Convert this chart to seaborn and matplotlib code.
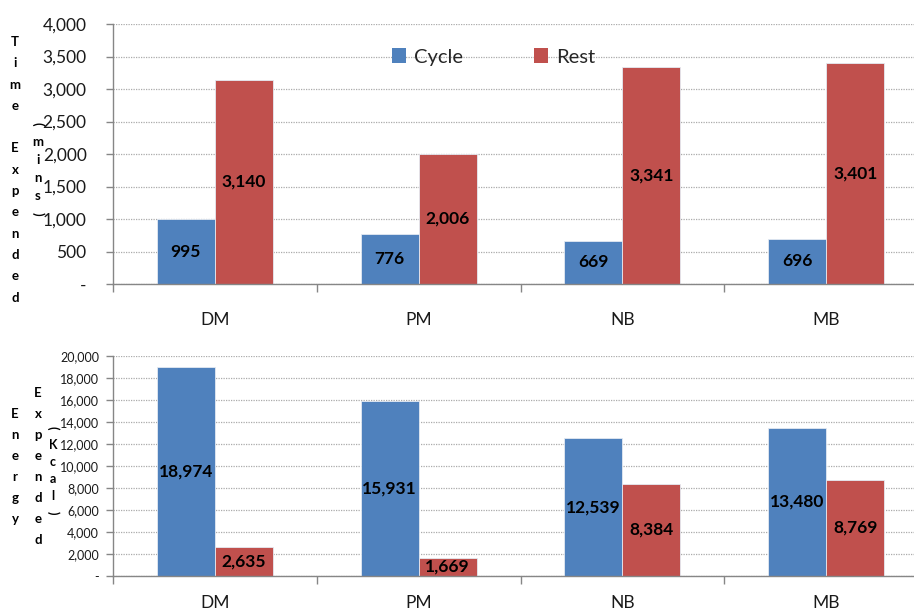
import matplotlib
matplotlib.use("Agg")
import matplotlib.pyplot as plt
import matplotlib.ticker as mticker
from matplotlib.patches import Patch
import seaborn as sns
import pandas as pd

# ---- data ----
categories = ["DM", "PM", "NB", "MB"]
series = ["Cycle", "Rest"]
time_cycle = [995, 776, 669, 696]
time_rest = [3140, 2006, 3341, 3401]
energy_cycle = [18974, 15931, 12539, 13480]
energy_rest = [2635, 1669, 8384, 8769]
time_ticks = [0, 500, 1000, 1500, 2000, 2500, 3000, 3500, 4000]
energy_ticks = [0, 2000, 4000, 6000, 8000, 10000, 12000, 14000, 16000, 18000, 20000]
time_label_col1 = list("Time") + [""] + list("Expended")
time_label_col2 = ["(", "m", "i", "n", "s", ")"]
energy_label_col1 = list("Energy")
energy_label_col2 = list("Expended")
energy_label_col3 = ["(", "K", "c", "a", "l", ")"]

colors = {"Cycle": "#4F81BD", "Rest": "#C0504D"}

sns.set_theme(style="white")
plt.rcParams["font.family"] = ["Lato", "DejaVu Sans"]

W, H = 914, 613
fig = plt.figure(figsize=(W / 100, H / 100), dpi=100)


def px_axes(left, top, right, bottom):
    return fig.add_axes([left / W, 1 - bottom / H, (right - left) / W, (bottom - top) / H])


def make_df(c, r):
    return pd.DataFrame({
        "Category": categories * 2,
        "Series": ["Cycle"] * len(categories) + ["Rest"] * len(categories),
        "Value": list(c) + list(r),
    })


def fmt(v, pos=None):
    return "-" if v == 0 else f"{int(v):,}"


def style_axes(ax, ticks, ylab_size, ypad, xpad):
    ax.set_xlim(-0.5, len(categories) - 0.5)
    ax.set_ylim(ticks[0], ticks[-1])
    ax.set_yticks(ticks)
    ax.yaxis.set_major_formatter(mticker.FuncFormatter(fmt))
    ax.set_xlabel("")
    ax.set_ylabel("")
    for s in ["top", "right"]:
        ax.spines[s].set_visible(False)
    for s in ["left", "bottom"]:
        ax.spines[s].set_color("#868686")
        ax.spines[s].set_linewidth(1.0)
    ax.yaxis.grid(True, linestyle=(0, (1, 1)), color="#ABABAB", linewidth=0.9)
    ax.set_axisbelow(True)
    ax.tick_params(axis="y", which="major", length=5, color="#868686", width=1,
                   labelsize=ylab_size, pad=ypad, left=True, labelcolor="#1a1a1a")
    ax.set_xticks(range(len(categories)))
    ax.set_xticklabels(categories)
    ax.set_xticks([i - 0.5 for i in range(len(categories) + 1)], minor=True)
    ax.tick_params(axis="x", which="major", length=0, labelsize=12.5, pad=xpad, labelcolor="#1a1a1a")
    ax.tick_params(axis="x", which="minor", length=6, color="#868686", width=1, bottom=True)


def labels(ax):
    for cont in ax.containers:
        ax.bar_label(cont, labels=[f"{int(v):,}" for v in cont.datavalues],
                     label_type="center", fontsize=12.5, fontweight="bold", color="black")


# ---- top chart ----
ax1 = px_axes(113, 24, 928, 284)
sns.barplot(data=make_df(time_cycle, time_rest), x="Category", y="Value", hue="Series",
            palette=colors, saturation=1, width=0.57, gap=0, ax=ax1, legend=False,
            edgecolor="#e4eaf2", linewidth=0.6)
style_axes(ax1, time_ticks, 12.5, 14, 20)
labels(ax1)
handles = [Patch(facecolor=colors[s], edgecolor="none") for s in series]
ax1.legend(handles, series, loc="center", bbox_to_anchor=(0.467, 0.873), ncol=2, frameon=False,
           fontsize=14.5, handlelength=0.7, handleheight=0.7, handletextpad=0.4, columnspacing=3.5)

# ---- bottom chart ----
ax2 = px_axes(113, 356, 928, 576)
sns.barplot(data=make_df(energy_cycle, energy_rest), x="Category", y="Value", hue="Series",
            palette=colors, saturation=1, width=0.57, gap=0, ax=ax2, legend=False,
            edgecolor="#e4eaf2", linewidth=0.6)
style_axes(ax2, energy_ticks, 9, 5, 14)
labels(ax2)


# ---- stacked vertical axis titles ----
def column(chars, x, y0, step, size=9.5):
    for i, ch in enumerate(chars):
        if not ch:
            continue
        rot = -90 if ch in "()" else 0
        fig.text(x / W, 1 - (y0 + i * step) / H, ch, ha="center", va="center",
                 fontsize=size, fontweight="bold", rotation=rot, color="black")


column(time_label_col1, 15, 42, 21.3)
column(time_label_col2, 38, 124, 18)
column(energy_label_col1, 15, 414, 21)
column(energy_label_col2, 38, 393, 21)
column(energy_label_col3, 53, 428, 17, size=9)

fig.savefig("out.png", dpi=100)
